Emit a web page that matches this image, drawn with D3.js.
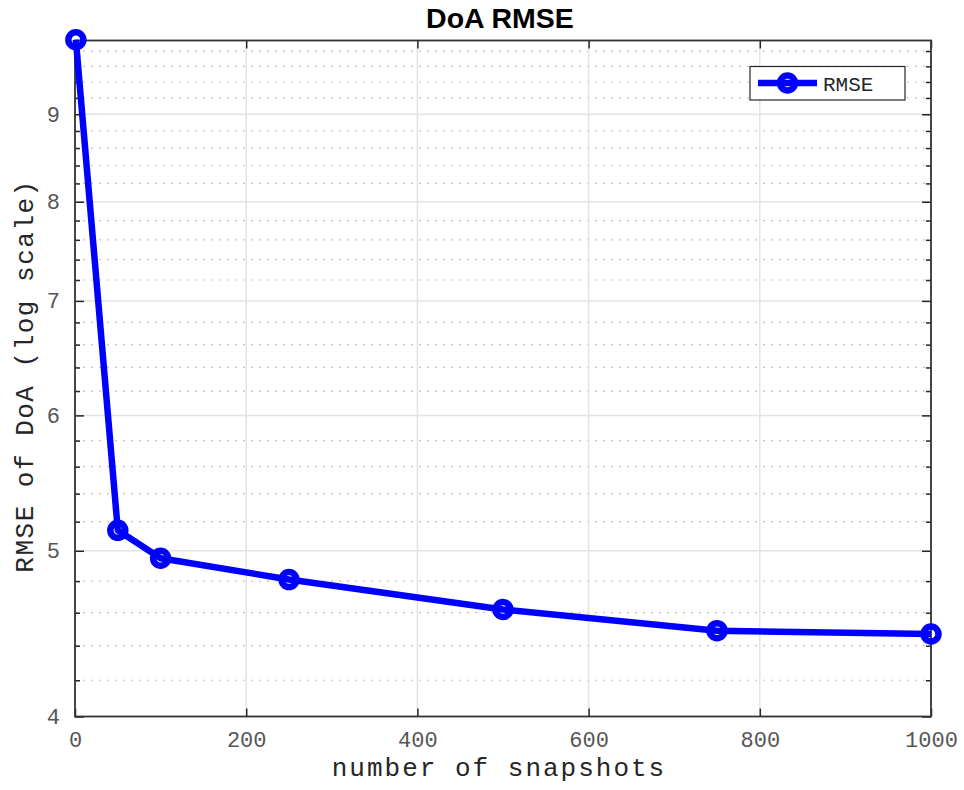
<!DOCTYPE html>
<html>
<head>
<meta charset="utf-8">
<script src="https://cdn.jsdelivr.net/npm/d3@7"></script>
<style>
  body { margin: 0; background: #fff; }
  .tick text { font-family: "Liberation Mono", "Courier New", monospace; font-size: 22px; fill: #555; }
  .domain { display: none; }
</style>
</head>
<body>
<div id="chart"></div>
<script>
// data
var snapshots = [1, 50, 100, 250, 500, 750, 1000];
var rmse = [9.95, 5.14, 4.95, 4.81, 4.62, 4.49, 4.47];
var xTicks = [0, 200, 400, 600, 800, 1000];
var yTicks = [4, 5, 6, 7, 8, 9];
var yMinor = [4.2, 4.4, 4.6, 4.8, 5.2, 5.4, 5.6, 5.8, 6.2, 6.4, 6.6, 6.8,
              7.2, 7.4, 7.6, 7.8, 8.2, 8.4, 8.6, 8.8, 9.2, 9.4, 9.6, 9.8];

function drawChart() {
  var W = 964, H = 790;
  var margin = {top: 40.5, right: 33, bottom: 73.5, left: 75};
  var w = W - margin.left - margin.right;
  var h = H - margin.top - margin.bottom;

  var svg = d3.select("#chart").append("svg")
    .attr("width", W)
    .attr("height", H);

  var g = svg.append("g")
    .attr("transform", "translate(" + margin.left + "," + margin.top + ")");

  var xScale = d3.scaleLinear().domain([0, 1000]).range([0, w]);
  var yScale = d3.scaleLog().domain([4, 9.94]).range([h, 0]);

  // minor grid (dotted)
  g.append("g").selectAll("line")
    .data(yMinor)
    .enter().append("line")
    .attr("x1", 0).attr("x2", w)
    .attr("y1", (d) => yScale(d)).attr("y2", (d) => yScale(d))
    .attr("stroke", "#c4c4c4")
    .attr("stroke-width", 1.2)
    .attr("stroke-dasharray", "2,6");

  // major grid
  g.append("g").selectAll("line")
    .data(yTicks.slice(1))
    .enter().append("line")
    .attr("x1", 0).attr("x2", w)
    .attr("y1", (d) => yScale(d)).attr("y2", (d) => yScale(d))
    .attr("stroke", "#e3e3e3")
    .attr("stroke-width", 1.5);

  g.append("g").selectAll("line")
    .data(xTicks.slice(1, -1))
    .enter().append("line")
    .attr("y1", 0).attr("y2", h)
    .attr("x1", (d) => xScale(d)).attr("x2", (d) => xScale(d))
    .attr("stroke", "#e3e3e3")
    .attr("stroke-width", 1.5);

  //Create axes (ticks pointing inward)
  var xAxis = d3.axisBottom(xScale).tickValues(xTicks).tickSize(-8).tickPadding(15).tickFormat(d3.format("d"));
  var xAxisTop = d3.axisTop(xScale).tickValues(xTicks).tickSize(-8).tickFormat("");
  var yAxis = d3.axisLeft(yScale).tickValues(yTicks).tickSize(-9).tickPadding(15).tickFormat(d3.format("d"));
  var yAxisRight = d3.axisRight(yScale).tickValues(yTicks).tickSize(-9).tickFormat("");
  var yMinorLeft = d3.axisLeft(yScale).tickValues(yMinor).tickSize(-5).tickFormat("");
  var yMinorRight = d3.axisRight(yScale).tickValues(yMinor).tickSize(-5).tickFormat("");

  g.append("g").attr("transform", "translate(0," + h + ")").call(xAxis);
  g.append("g").call(xAxisTop);
  g.append("g").call(yAxis);
  g.append("g").attr("transform", "translate(" + w + ",0)").call(yAxisRight);
  g.append("g").call(yMinorLeft);
  g.append("g").attr("transform", "translate(" + w + ",0)").call(yMinorRight);

  g.selectAll(".tick line").attr("stroke", "#262626").attr("stroke-width", 1.5);

  // box
  g.append("rect")
    .attr("x", 0).attr("y", 0)
    .attr("width", w).attr("height", h)
    .attr("fill", "none")
    .attr("stroke", "#333")
    .attr("stroke-width", 1.8);

  // data line
  var dataset = snapshots.map((s, i) => ({x: s, y: rmse[i]}));
  var line = d3.line().x((d) => xScale(d.x)).y((d) => yScale(d.y));

  g.append("path")
    .datum(dataset)
    .attr("d", line)
    .attr("fill", "none")
    .attr("stroke", "#0000ff")
    .attr("stroke-width", 6.5)
    .attr("stroke-linejoin", "round");

  g.selectAll("circle.pt")
    .data(dataset)
    .enter().append("circle")
    .attr("class", "pt")
    .attr("cx", (d) => xScale(d.x))
    .attr("cy", (d) => yScale(d.y))
    .attr("r", 7.5)
    .attr("fill", "none")
    .attr("stroke", "#0000ff")
    .attr("stroke-width", 6.5);

  // legend
  var leg = svg.append("g").attr("transform", "translate(750,66.5)");
  leg.append("rect")
    .attr("width", 155).attr("height", 33.5)
    .attr("fill", "#fff")
    .attr("stroke", "#262626")
    .attr("stroke-width", 1.2);
  leg.append("line")
    .attr("x1", 8).attr("x2", 67).attr("y1", 16.5).attr("y2", 16.5)
    .attr("stroke", "#0000ff").attr("stroke-width", 6.5);
  leg.append("circle")
    .attr("cx", 37.5).attr("cy", 16.5).attr("r", 7.5)
    .attr("fill", "none").attr("stroke", "#0000ff").attr("stroke-width", 6.5);
  leg.append("text")
    .attr("x", 73).attr("y", 24)
    .attr("font-family", "Liberation Mono, Courier New, monospace")
    .attr("font-size", 21)
    .attr("fill", "#262626")
    .text("RMSE");

  // title
  svg.append("text")
    .attr("x", 500).attr("y", 28)
    .attr("text-anchor", "middle")
    .attr("font-family", "Liberation Sans, Arial, sans-serif")
    .attr("font-weight", "bold")
    .attr("font-size", 28.5)
    .attr("fill", "#000")
    .text("DoA RMSE");

  // axis labels
  svg.append("text")
    .attr("x", 499).attr("y", 776)
    .attr("text-anchor", "middle")
    .attr("font-family", "Liberation Mono, Courier New, monospace")
    .attr("font-size", 26)
    .attr("letter-spacing", 2)
    .attr("fill", "#262626")
    .text("number of snapshots");

  svg.append("text")
    .attr("text-anchor", "middle")
    .attr("transform", "translate(33,376) rotate(-90)")
    .attr("font-family", "Liberation Mono, Courier New, monospace")
    .attr("font-size", 26)
    .attr("letter-spacing", 1.5)
    .attr("fill", "#262626")
    .text("RMSE of DoA (log scale)");
}

window.onload = function () {
  drawChart();
};
</script>
</body>
</html>
